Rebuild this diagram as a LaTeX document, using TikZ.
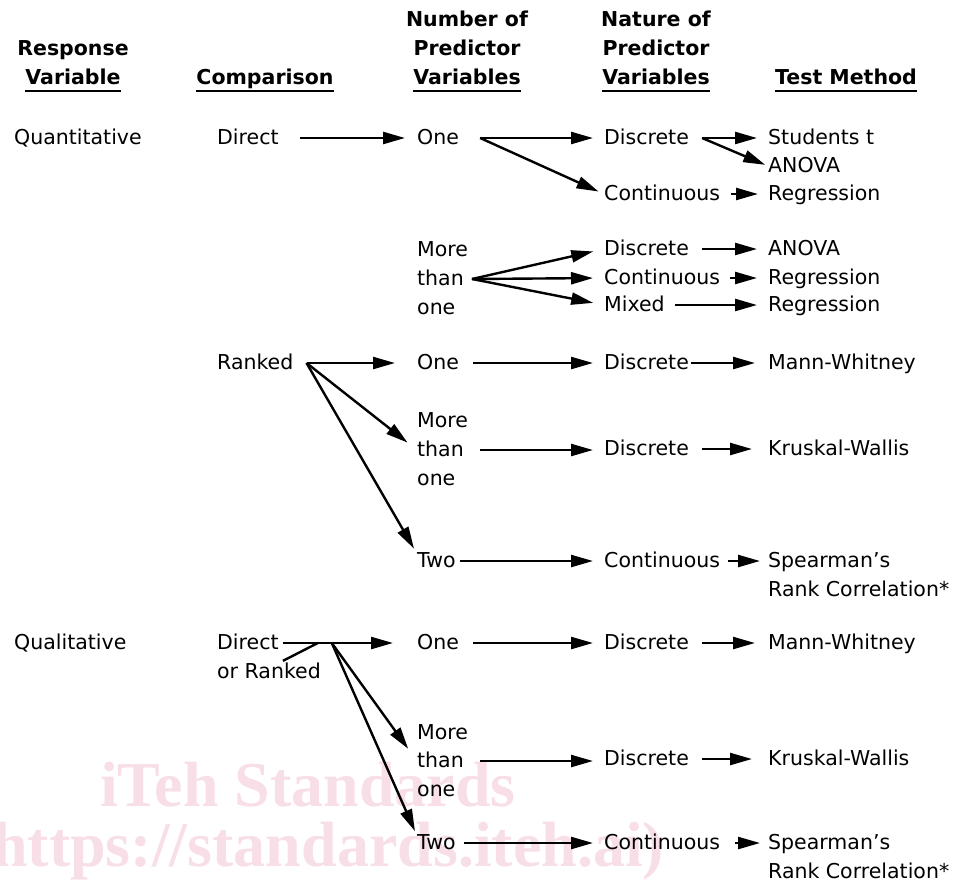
\documentclass[tikz,border=0pt]{standalone}
\usepackage{fontspec}
\setmainfont{DejaVu Sans}
\newfontfamily\wmfont{Liberation Serif}
\usetikzlibrary{arrows.meta,positioning}
\definecolor{wmpink}{RGB}{248,222,231}

\begin{document}
\begin{tikzpicture}[x=1pt,y=-1pt,
  font=\fontsize{20.5}{29}\selectfont,
  lb/.style={anchor=base west,inner sep=0pt,text height=13pt,text depth=1pt},
  hd/.style={anchor=base,inner sep=0pt,font=\fontsize{20.5}{29}\selectfont\bfseries},
  ar/.style={-{Triangle[length=22pt,width=12pt]},line width=2.4pt,
             shorten <=13pt,shorten >=11pt},
  ln/.style={line width=2.4pt},
  ul/.style={line width=2.4pt},
  wm/.style={anchor=base west,inner sep=0pt,text=wmpink,
             font=\wmfont\bfseries\fontsize{64}{64}\selectfont}]
\useasboundingbox (0,0) rectangle (966,887);
% watermark
\node[wm] (wm1) at (100,806) {iTeh Standards};
\node[wm] (wm2) at (-8,866) {https://standards.iteh.ai)};
% headers
\node[hd] (h1a) at (73,55) {Response};
\node[hd] (h1b) at (73,84) {Variable};
\node[hd] (h2) at (265,84) {Comparison};
\node[hd] (h3a) at (467,26) {Number of};
\node[hd] (h3b) at (467,55) {Predictor};
\node[hd] (h3c) at (467,84) {Variables};
\node[hd] (h4a) at (656,26) {Nature of};
\node[hd] (h4b) at (656,55) {Predictor};
\node[hd] (h4c) at (656,84) {Variables};
\node[hd] (h5) at (846,84) {Test Method};
\foreach \h in {h1b,h2,h3c,h4c,h5}
  \draw[ul] ([yshift=-7pt]\h.base west) -- ([yshift=-7pt]\h.base east);
% quantitative, direct
\node[lb] (qt) at (14,144) {Quantitative};
\node[lb] (qd) at (217,144) {Direct};
\node[lb] (q1) at (417,144) {One};
\node[lb] (q1d) at (604,144) {Discrete};
\node[lb] (q1c) at (604,200) {Continuous};
\node[lb] (q1t) at (768,144) {Students t};
\node[lb] (q1a) at (768,172) {ANOVA};
\node[lb] (q1r) at (768,200) {Regression};
\node[lb] (qm1) at (417,256) {More};
\node[lb] (qm2) at (417,285) {than};
\node[lb] (qm3) at (417,314) {one};
\node[lb] (qmd) at (604,255) {Discrete};
\node[lb] (qmc) at (604,284) {Continuous};
\node[lb] (qmx) at (604,311) {Mixed};
\node[lb] (qma) at (768,255) {ANOVA};
\node[lb] (qmr) at (768,284) {Regression};
\node[lb] (qmy) at (768,311) {Regression};
% quantitative, ranked
\node[lb] (rk) at (217,369) {Ranked};
\node[lb] (r1) at (417,369) {One};
\node[lb] (r1d) at (604,369) {Discrete};
\node[lb] (r1w) at (768,369) {Mann-Whitney};
\node[lb] (rm1) at (417,427) {More};
\node[lb] (rm2) at (417,456) {than};
\node[lb] (rm3) at (417,485) {one};
\node[lb] (rmd) at (604,455) {Discrete};
\node[lb] (rmk) at (768,455) {Kruskal-Wallis};
\node[lb] (r2) at (417,567) {Two};
\node[lb] (r2c) at (604,567) {Continuous};
\node[lb] (r2s) at (768,567) {Spearman’s};
\node[lb] (r2t) at (768,596) {Rank Correlation*};
% qualitative
\node[lb] (ql) at (14,649) {Qualitative};
\node[lb] (ld) at (217,649) {Direct};
\node[lb] (lr) at (217,678) {or Ranked};
\node[lb] (l1) at (417,649) {One};
\node[lb] (l1d) at (604,649) {Discrete};
\node[lb] (l1w) at (768,649) {Mann-Whitney};
\node[lb] (lm1) at (417,739) {More};
\node[lb] (lm2) at (417,767) {than};
\node[lb] (lm3) at (417,796) {one};
\node[lb] (lmd) at (604,765) {Discrete};
\node[lb] (lmk) at (768,765) {Kruskal-Wallis};
\node[lb] (l2) at (417,849) {Two};
\node[lb] (l2c) at (604,849) {Continuous};
\node[lb] (l2s) at (768,849) {Spearman’s};
\node[lb] (l2t) at (768,878) {Rank Correlation*};
% fork points
\coordinate (q1f) at ([xshift=21pt]q1.east);
\coordinate (qmf) at ([xshift=8pt]qm2.east);
\coordinate (q1df) at ([xshift=13pt]q1d.east);
\coordinate (rkf) at ([xshift=13pt]rk.east);
\coordinate (ldf) at ([xshift=53pt]ld.east);
% connectors, direct
\draw[ar,shorten <=21pt,shorten >=12pt] (qd.east) -- (q1.west);
\draw[ar,shorten <=0pt] (q1f) -- (q1d.west);
\draw[ar,shorten <=0pt,shorten >=6pt] (q1f) -- (q1c.west);
\draw[ar,shorten <=0pt] (q1df) -- (q1t.west);
\draw[ar,shorten <=0pt,shorten >=3pt] (q1df) -- (q1a.west);
\draw[ar,shorten <=11pt,shorten >=10pt] (q1c.east) -- (q1r.west);
\foreach \t in {qmd,qmc,qmx} \draw[ar,shorten <=0pt] (qmf) -- (\t.west);
\draw[ar] (qmd.east) -- (qma.west);
\draw[ar,shorten <=10pt] (qmc.east) -- (qmr.west);
\draw[ar,shorten <=10pt] (qmx.east) -- (qmy.west);
% connectors, ranked
\draw[ar,shorten <=0pt,shorten >=22pt] (rkf) -- (r1.west);
\draw[ar,shorten <=0pt,shorten >=12pt] (rkf) -- (rm2.west);
\draw[ar,shorten <=0pt,shorten >=6pt] (rkf) -- (r2.north west);
\draw[ar,shorten <=14pt] (r1.east) -- (r1d.west);
\draw[ar,shorten <=2pt,shorten >=13pt] (r1d.east) -- (r1w.west);
\draw[ar,shorten <=16pt] (rm2.east) -- (rm2.east -| rmd.west);
\draw[ar,shorten >=16pt] (rmd.east) -- (rmk.west);
\draw[ar,shorten <=4pt] (r2.east) -- (r2c.west);
\draw[ar,shorten <=8pt,shorten >=8pt] (r2c.east) -- (r2s.west);
% connectors, qualitative
\draw[ar,shorten <=4pt,shorten >=24pt] (ld.east) -- (l1.west);
\draw[ln] ([xshift=66pt,yshift=4pt]lr.north west) -- ([xshift=39pt]ld.east);
\draw[ar,shorten <=0pt,shorten >=15pt] (ldf) -- (lm2.west);
\draw[ar,shorten <=0pt,shorten >=5pt] (ldf) -- (l2.north west);
\draw[ar,shorten <=14pt] (l1.east) -- (l1d.west);
\draw[ar,shorten >=13pt] (l1d.east) -- (l1w.west);
\draw[ar,shorten <=16pt] (lm2.east) -- (lm2.east -| lmd.west);
\draw[ar,shorten >=16pt] (lmd.east) -- (lmk.west);
\draw[ar,shorten <=8pt] (l2.east) -- (l2c.west);
\draw[ar,shorten <=15pt,shorten >=8pt] (l2c.east) -- (l2s.west);
\end{tikzpicture}
\end{document}
